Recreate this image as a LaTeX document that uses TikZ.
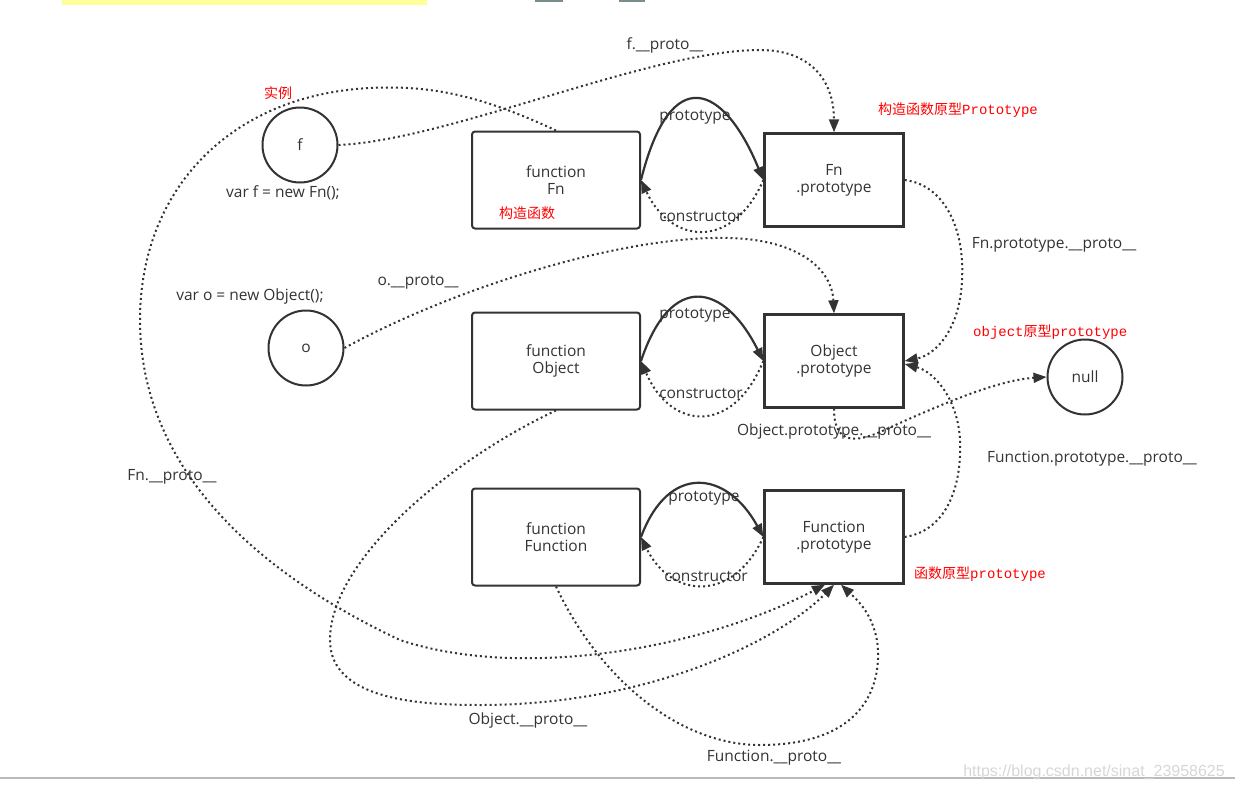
\documentclass[tikz,border=0pt]{standalone}
\usepackage{fontspec}
\setmainfont{Open Sans}
\newfontfamily\cjkfont{Noto Sans CJK SC}
\newfontfamily\codefont{Liberation Mono}
\newfontfamily\urlfont{Liberation Sans}
\usetikzlibrary{positioning,arrows.meta,calc}
\definecolor{ink}{HTML}{333333}
\definecolor{notered}{HTML}{FF0000}
\definecolor{marker}{HTML}{FFFF99}
\definecolor{tabgray}{HTML}{7A8C8C}

\begin{document}
\begin{tikzpicture}[x=1pt,y=-1pt,
    every node/.style={text=ink,font=\fontsize{15.5}{17}\selectfont,align=center,inner sep=1pt},
    funcbox/.style={draw=ink,line width=2pt,rounded corners=3pt,minimum width=168pt,minimum height=97pt},
    protobox/.style={draw=ink,line width=2.4pt,minimum width=139pt,minimum height=93pt},
    inst/.style={draw=ink,line width=2pt,circle,minimum size=75pt},
    tip/.style={-{Triangle[length=13pt,width=10pt]}},
    link/.style={draw=ink,line width=2pt,dash pattern=on 2pt off 3pt,tip},
    solidlink/.style={draw=ink,line width=2.2pt,tip},
    note/.style={text=notered,font=\cjkfont\fontsize{14}{16}\selectfont,inner sep=0pt},
  ]
  \useasboundingbox (0,0) rectangle (1235,788);
  \fill[marker] (62,0) rectangle (427,5);
  \fill[tabgray] (535,0) rectangle (563,2);
  \fill[tabgray] (619,0) rectangle (645,2);
  \draw[line width=1.5pt,draw=black!27] (0,778) -- (1235,778);
  \node[text=black!16,font=\urlfont\fontsize{16}{18}\selectfont,anchor=base east] (url) at (1226,776) {https://blog.csdn.net/sinat\_23958625};

  \node[inst] (f) at (300,145) {f};
  \node[inst] (o) at (306,348) {o};
  \node[inst] (null) at (1085,377) {null};
  \node[funcbox] (fn) at (556,180) {function\\Fn};
  \node[protobox] (fnp) at (834,180) {Fn\\.prototype};
  \node[funcbox] (fo) at (556,361) {function\\Object};
  \node[protobox] (op) at (834,361) {Object\\.prototype};
  \node[funcbox] (ff) at (556,537) {function\\Function};
  \node[protobox] (fp) at (834,537) {Function\\.prototype};

  \node (newf) at (283,193) {var f = new Fn();};
  \node (newo) at (250,296) {var o = new Object();};
  \node[note] (inst note) at (278,93) {实例};
  \node[note] (ctor note) at (527,213) {构造函数};
  \node[note,anchor=west] (fnp note) at (878,110) {构造函数原型{\codefont Prototype}};
  \node[note,anchor=west] (op note) at (973,332) {{\codefont object}原型{\codefont prototype}};
  \node[note,anchor=west] (fp note) at (914,574) {函数原型{\codefont prototype}};

  \draw[solidlink] (fn.east) .. controls +(30,-120) and +(-39,-95) .. (fnp.west);
  \draw[link] (fnp.west) .. controls +(-30,70) and +(30,65) .. (fn.east);
  \draw[solidlink] (fo.east) .. controls +(30,-90) and +(-39,-78) .. (op.west);
  \draw[link] (op.west) .. controls +(-30,74) and +(30,70) .. (fo.east);
  \draw[solidlink] (ff.east) .. controls +(28,-75) and +(-36,-66) .. (fp.west);
  \draw[link] (fp.west) .. controls +(-30,66) and +(30,62) .. (ff.east);
  \node (p1) at (695,117) {prototype};
  \node (c1) at (701,216) {constructor};
  \node (p2) at (695,315) {prototype};
  \node (c2) at (701,393) {constructor};
  \node (p3) at (704,498) {prototype};
  \node (c3) at (706,576) {constructor};

  \draw[link] (f.east) .. controls (450,140) and (650,50) .. (760,50) .. controls (810,50) and (834,80) .. (fnp.north);
  \node (fproto) at (665,45) {f.\_\_proto\_\_};
  \draw[link] (o.east) .. controls (450,290) and (620,235) .. (730,238) .. controls (800,240) and (832,270) .. (op.north);
  \node (oproto) at (418,282) {o.\_\_proto\_\_};
  \draw[link] (fnp.east) .. controls (945,185) and (965,230) .. (962,280) .. controls (960,330) and (935,355) .. (op.east);
  \node (fnpproto) at (1054,245) {Fn.prototype.\_\_proto\_\_};
  \draw[link] (fp.east) .. controls (950,530) and (962,480) .. (960,440) .. controls (958,400) and (935,372) .. ([yshift=-3pt]op.east);
  \node (fpproto) at (1092,459) {Function.prototype.\_\_proto\_\_};
  \draw[link] (op.south) .. controls (834,440) and (850,445) .. (880,432) .. controls (950,400) and (1000,380) .. (null.west);
  \node (opproto) at (834,431) {Object.prototype.\_\_proto\_\_};

  \draw[link] (fn.north) .. controls (480,95) and (430,85) .. (370,88) .. controls (230,95) and (140,190) .. (140,320) .. controls (140,450) and (230,560) .. (400,640) .. controls (520,680) and (700,650) .. ([xshift=-9pt]fp.south);
  \node (fnproto) at (172,477) {Fn.\_\_proto\_\_};
  \draw[link] (fo.south) .. controls (450,460) and (330,560) .. (330,640) .. controls (330,700) and (420,705) .. (480,705) .. controls (650,705) and (780,640) .. (fp.south);
  \node (oproto2) at (528,720) {Object.\_\_proto\_\_};
  \draw[link] (ff.south) .. controls (600,680) and (680,745) .. (760,745) .. controls (850,745) and (880,700) .. (878,650) .. controls (876,615) and (855,598) .. ([xshift=7pt]fp.south);
  \node (ffproto) at (774,758) {Function.\_\_proto\_\_};
\end{tikzpicture}
\end{document}
